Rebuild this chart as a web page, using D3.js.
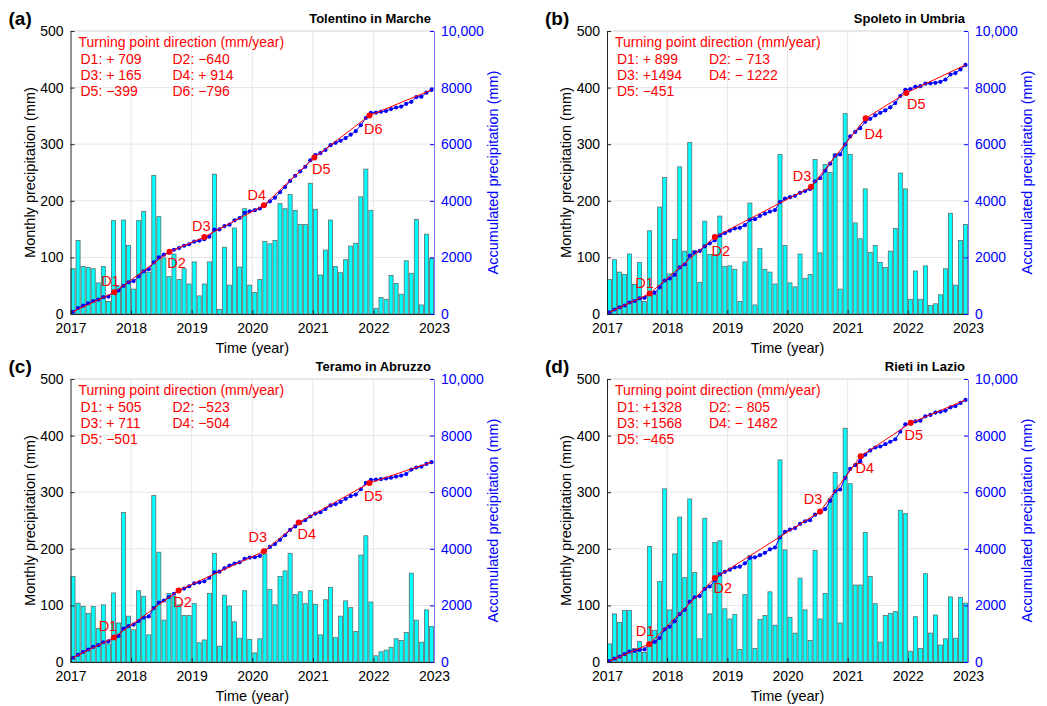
<!DOCTYPE html>
<html>
<head>
<meta charset="UTF-8">
<title>Monthly and accumulated precipitation</title>
<script src="https://cdn.jsdelivr.net/npm/d3@7"></script>
<style>
  body { margin: 0; background: #fff; }
  svg { font-family: "Liberation Sans", Arial, Helvetica, sans-serif; }
</style>
</head>
<body>
<div id="chart"></div>
<script>
// ---- data ----
var years = ["2017", "2018", "2019", "2020", "2021", "2022", "2023"];
var leftTicks = [0, 100, 200, 300, 400, 500];
var rightTicks = [0, 2000, 4000, 6000, 8000, 10000];
var rightTickLabels = ["0", "2000", "4000", "6000", "8000", "10,000"];

// monthly precipitation (mm), Jan 2017 .. Dec 2022
var rainA = [80,130,84,82,80,55,84,22,165,49,166,121,
             44,165,181,74,245,172,99,66,106,61,80,53,
             92,32,53,92,247,8,118,51,152,83,186,51,
             38,61,128,124,130,195,186,211,183,158,158,231,
             185,69,113,166,84,73,96,120,125,207,256,183,
             10,29,26,68,54,35,94,72,167,16,141,98];
var rainB = [61,96,74,70,106,52,91,22,147,34,189,241,
             71,132,260,111,303,112,56,164,105,105,173,84,
             85,79,22,92,196,16,116,79,74,53,282,121,
             55,48,106,63,70,273,108,264,250,283,44,354,
             282,161,133,221,109,121,91,82,111,151,249,221,
             26,76,26,85,15,18,34,80,178,51,130,158];
var rainC = [151,104,98,86,98,59,101,32,122,69,264,81,
             57,126,116,48,294,194,74,121,116,101,82,82,
             103,34,39,121,192,28,118,99,71,42,126,40,
             16,41,191,128,101,151,161,192,119,124,103,126,
             102,48,110,132,43,81,108,96,54,189,223,106,
             11,18,21,26,41,38,52,157,74,35,92,63];
var rainD = [32,85,70,91,91,24,36,17,204,56,142,306,
             92,191,256,149,288,158,41,254,85,211,214,94,
             76,84,22,119,188,24,75,82,124,65,357,198,
             79,51,148,92,38,197,76,121,289,335,69,413,
             315,136,136,229,151,103,35,82,86,89,268,262,
             19,80,24,156,51,83,30,41,115,42,114,104];

// turning points: month index (0 = Jan 2017) and accumulated value (mm)
var tpMonthA = [8.2, 19.1, 26.0, 37.8, 47.8, 58.7];
var tpAccA = [770, 2199, 2720, 3840, 5532, 7010];
var rateA = ["D1: + 709", "D2: \u2212640", "D3: + 165", "D4: + 914", "D5: \u2212399", "D6: \u2212796"];

var tpMonthB = [8.0, 21.0, 40.2, 51.1, 59.2];
var tpAccB = [720, 2720, 4493, 6915, 7813];
var rateB = ["D1: + 899", "D2: \u2212 713", "D3: +1494", "D4: \u2212 1222", "D5: \u2212451"];

var tpMonthC = [8.1, 20.9, 37.8, 44.7, 58.7];
var tpAccC = [862, 2528, 3911, 4929, 6323];
var rateC = ["D1: + 505", "D2: \u2212523", "D3: + 711", "D4: \u2212504", "D5: \u2212501"];

var tpMonthD = [7.9, 21.0, 42.0, 50.1, 60.1];
var tpAccD = [628, 2968, 5319, 7270, 8451];
var rateD = ["D1: +1328", "D2: \u2212 805", "D3: +1568", "D4: \u2212 1482", "D5: \u2212465"];

// ---- layout ----
var W = 1047, H = 706;
var panels = [
  {tag: "(a)", title: "Tolentino in Marche", rain: rainA, tpM: tpMonthA, tpY: tpAccA, rates: rateA,
   left: 70.5, right: 434, top: 31, bottom: 314,
   lab: [[-4,-11],[7,11],[-3,-11],[-7,-10],[7,12],[4,13]]},
  {tag: "(b)", title: "Spoleto in Umbria", rain: rainB, tpM: tpMonthB, tpY: tpAccB, rates: rateB,
   left: 607, right: 968, top: 31, bottom: 314,
   lab: [[-5,-11],[6,14],[-9,-11],[8,16],[10,11]]},
  {tag: "(c)", title: "Teramo in Abruzzo", rain: rainC, tpM: tpMonthC, tpY: tpAccC, rates: rateC,
   left: 70.5, right: 434, top: 379, bottom: 662,
   lab: [[-6,-12],[4,12],[-6,-14],[8,11],[4,13]]},
  {tag: "(d)", title: "Rieti in Lazio", rain: rainD, tpM: tpMonthD, tpY: tpAccD, rates: rateD,
   left: 607, right: 968, top: 379, bottom: 662,
   lab: [[-4,-13],[8,10],[-7,-12],[4,12],[3,12]]}
];

var svg = d3.select("#chart").append("svg")
  .attr("width", W).attr("height", H);

panels.forEach(function(p) {
  var g = svg.append("g");
  var x = d3.scaleLinear().domain([0, 72]).range([p.left, p.right]);
  var yL = d3.scaleLinear().domain([0, 500]).range([p.bottom, p.top]);
  var yR = d3.scaleLinear().domain([0, 10000]).range([p.bottom, p.top]);
  var cum = Array.from(d3.cumsum(p.rain));

  // grid
  g.selectAll(".vg").data(d3.range(12, 72, 12)).enter().append("line")
    .attr("x1", d => x(d)).attr("x2", d => x(d))
    .attr("y1", p.top).attr("y2", p.bottom)
    .attr("stroke", "#e6e6e6").attr("stroke-width", 1);
  g.selectAll(".hg").data(leftTicks.slice(1, 5)).enter().append("line")
    .attr("x1", p.left).attr("x2", p.right)
    .attr("y1", d => yL(d)).attr("y2", d => yL(d))
    .attr("stroke", "#e6e6e6").attr("stroke-width", 1);
  // top border
  g.append("line").attr("x1", p.left).attr("x2", p.right)
    .attr("y1", p.top).attr("y2", p.top)
    .attr("stroke", "#d4d4d4");

  // bars
  var bw = (x(1) - x(0)) * 0.8;
  g.selectAll(".bar").data(p.rain).enter().append("rect")
    .attr("x", (d, i) => x(i + 0.5) - bw / 2)
    .attr("y", d => yL(d))
    .attr("width", bw)
    .attr("height", d => yL(0) - yL(d))
    .attr("fill", "#00ffff")
    .attr("stroke", "#5a6e6e").attr("stroke-width", 0.8);

  // accumulated line + dots
  var line = d3.line().x(d => x(d[0] + 0.5)).y(d => yR(d[1]));
  var accPts = cum.map((v, i) => [i, v]);
  g.append("path").attr("d", line(accPts))
    .attr("fill", "none").attr("stroke", "#0000ff").attr("stroke-width", 1);
  g.selectAll(".dot").data(accPts).enter().append("circle")
    .attr("cx", d => x(d[0] + 0.5)).attr("cy", d => yR(d[1]))
    .attr("r", 2.1).attr("fill", "#0000ff");

  // piecewise trend with turning points
  var tp = p.tpM.map((m, i) => [m, p.tpY[i]]);
  var trend = [[0, cum[0]]].concat(tp).concat([[71, cum[71]]]);
  g.append("path").attr("d", line(trend))
    .attr("fill", "none").attr("stroke", "#ff0000").attr("stroke-width", 1);
  g.selectAll(".tp").data(tp).enter().append("circle")
    .attr("cx", d => x(d[0] + 0.5)).attr("cy", d => yR(d[1]))
    .attr("r", 3).attr("fill", "#ff0000");
  g.selectAll(".tpl").data(tp).enter().append("text")
    .attr("x", (d, i) => x(d[0] + 0.5) + p.lab[i][0])
    .attr("y", (d, i) => yR(d[1]) + p.lab[i][1])
    .attr("text-anchor", "middle").attr("dominant-baseline", "central")
    .attr("fill", "#ff0000").attr("font-size", 14.5)
    .text((d, i) => "D" + (i + 1));

  // axes
  var axB = g.append("g").attr("transform", "translate(0," + p.bottom + ")")
    .call(d3.axisBottom(x).tickValues(d3.range(0, 73, 12))
      .tickFormat((d, i) => years[i]).tickSizeInner(-4).tickSizeOuter(0).tickPadding(7));
  var axL = g.append("g").attr("transform", "translate(" + p.left + ",0)")
    .call(d3.axisLeft(yL).tickValues(leftTicks)
      .tickSizeInner(-4).tickSizeOuter(0).tickPadding(7));
  var axR = g.append("g").attr("transform", "translate(" + p.right + ",0)")
    .call(d3.axisRight(yR).tickValues(rightTicks)
      .tickFormat((d, i) => rightTickLabels[i]).tickSizeInner(-4).tickSizeOuter(0).tickPadding(7));
  [axB, axL].forEach(function(a) {
    a.select(".domain").attr("stroke", "#262626");
    a.selectAll(".tick line").attr("stroke", "#262626");
    a.selectAll(".tick text").attr("fill", "#000").attr("font-size", 14);
  });
  axR.select(".domain").attr("stroke", "#7878ff");
  axR.selectAll(".tick line").attr("stroke", "#0000ff");
  axR.selectAll(".tick text").attr("fill", "#0000ff").attr("font-size", 14);
  axB.selectAll(".tick text").attr("dy", "0.85em");

  // axis titles
  g.append("text").attr("x", (p.left + p.right) / 2).attr("y", p.bottom + 39)
    .attr("text-anchor", "middle").attr("font-size", 14.5).text("Time (year)");
  g.append("text")
    .attr("transform", "translate(" + (p.left - 36) + "," + ((p.top + p.bottom) / 2) + ") rotate(-90)")
    .attr("text-anchor", "middle").attr("font-size", 14.5).text("Monthly precipitation (mm)");
  g.append("text")
    .attr("transform", "translate(" + (p.right + 64) + "," + ((p.top + p.bottom) / 2) + ") rotate(-90)")
    .attr("text-anchor", "middle").attr("font-size", 14.5).attr("fill", "#0000ff")
    .text("Accumulated precipitation (mm)");

  // panel tag and station title
  g.append("text").attr("x", p.left - 62).attr("y", p.top - 6)
    .attr("font-size", 19).attr("font-weight", "bold").text(p.tag);
  g.append("text").attr("x", p.right - 3).attr("y", p.top - 8)
    .attr("text-anchor", "end").attr("font-size", 13).attr("font-weight", "bold").text(p.title);

  // turning point direction box
  var lx = p.left + 8;
  g.append("text").attr("x", lx).attr("y", p.top + 16)
    .attr("fill", "#ff0000").attr("font-size", 14).text("Turning point direction (mm/year)");
  g.selectAll(".rate").data(p.rates).enter().append("text")
    .attr("x", (d, i) => lx + 2 + (i % 2) * 92)
    .attr("y", (d, i) => p.top + 33 + Math.floor(i / 2) * 16)
    .attr("fill", "#ff0000").attr("font-size", 14)
    .text(d => d);
});
</script>
</body>
</html>
